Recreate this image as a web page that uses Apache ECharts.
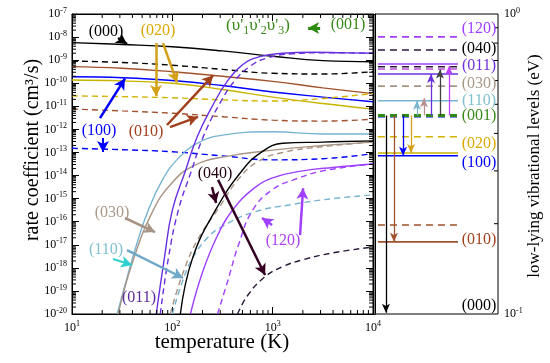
<!DOCTYPE html>
<html><head><meta charset="utf-8">
<script src="https://cdn.jsdelivr.net/npm/echarts@6/dist/echarts.min.js"></script>
<style>html,body{margin:0;padding:0;background:#fff}#c{width:550px;height:363px}</style>
</head><body><div id="c"></div><script>
// ---- data (log10 units): [log10 T (K), log10 k (cm^3/s)] ----
const c000s = [[1,-8.24],[1.5,-8.32],[2,-8.42],[2.5,-8.6],[3,-8.83],[3.5,-9.02],[4,-9.07]];
const c000d = [[1,-9.04],[1.5,-9.1],[2,-9.22],[2.5,-9.4],[3,-9.57],[3.5,-9.6],[4,-9.5]];
const c010s = [[1,-9.28],[1.5,-9.35],[2,-9.5],[2.5,-9.7],[3,-9.92],[3.5,-10.2],[4,-10.45]];
const c010d = [[1,-11.12],[1.5,-11.2],[2,-11.3],[2.5,-11.45],[3,-11.6],[3.5,-11.64],[4,-11.56]];
const c100s = [[1,-9.72],[1.5,-9.76],[2,-9.88],[2.5,-10.1],[3,-10.38],[3.5,-10.6],[4,-10.8]];
const c100d = [[1,-12.82],[1.5,-12.88],[2,-12.97],[2.5,-13.15],[3,-13.32],[3.5,-13.27],[4,-13.05]];
const c020s = [[1,-9.86],[1.5,-9.9],[2,-10.0],[2.5,-10.27],[3,-10.6],[3.5,-10.88],[4,-11.12]];
const c020d = [[1,-10.55],[1.5,-10.58],[2,-10.63],[2.5,-10.72],[3,-10.77],[3.5,-10.66],[4,-10.44]];
const c110s = [[1.45,-20],[1.55,-18.4],[1.65,-16.9],[1.76,-15.5],[1.9,-14.2],[2.05,-13.3],[2.25,-12.6],[2.5,-12.25],[3,-12.1],[3.5,-12.2],[4,-12.2]];
const c110d = [[2.0,-20],[2.1,-18.6],[2.2,-17.6],[2.35,-16.7],[2.5,-16.2],[2.8,-15.6],[3.2,-15.25],[3.6,-15.0],[4,-14.84]];
const c030s = [[1.46,-20],[1.6,-17.8],[1.81,-15.5],[2.0,-14.3],[2.2,-13.6],[2.5,-13.2],[3,-12.9],[3.5,-12.7],[4,-12.55]];
const c030d = [[1.98,-20],[2.1,-18.3],[2.25,-16.8],[2.48,-15.3],[2.65,-14.2],[2.85,-13.4],[3.1,-13.0],[3.5,-12.75],[4,-12.55]];
const c011s = [[1.84,-20],[1.92,-17.6],[2.0,-15.5],[2.13,-13.8],[2.25,-12.3],[2.41,-10.9],[2.55,-9.9],[2.7,-9.2],[2.87,-8.85],[3.1,-8.7],[3.4,-8.66],[3.7,-8.68],[4,-8.7]];
const c011d = [[1.88,-20],[1.96,-17.6],[2.06,-15.5],[2.19,-13.8],[2.31,-12.3],[2.47,-10.9],[2.62,-9.9],[2.78,-9.25],[2.95,-8.9],[3.2,-8.72],[3.5,-8.68],[4,-8.7]];
const c040s = [[2.08,-20],[2.2,-17.6],[2.43,-15.5],[2.7,-13.76],[2.9,-12.95],[3.1,-12.6],[3.5,-12.55],[4,-12.5]];
const c040d = [[2.65,-20],[2.75,-19.2],[2.92,-18.4],[3.1,-17.95],[3.3,-17.65],[3.6,-17.35],[4,-17.1]];
const c120s = [[2.18,-20],[2.3,-18.2],[2.45,-16.6],[2.6,-15.5],[2.8,-14.6],[3.0,-14.1],[3.3,-13.8],[3.6,-13.65],[4,-13.5]];
const c120d = [[2.45,-20],[2.55,-18.6],[2.66,-17.0],[2.8,-15.5],[3.0,-14.6],[3.2,-14.2],[3.5,-13.8],[4,-13.5]];

// tick label exponents
const xExp = [1,2,3,4];
const yExp = [-20,-19,-18,-17,-16,-15,-14,-13,-12,-11,-10,-9,-8,-7];
const rExp = [-1,0];

// energy levels (eV) of right panel
const levelE    = [0.839, 0.759, 0.681, 0.667, 0.656, 0.631, 0.575, 0.514, 0.459, 0.455, 0.390, 0.344, 0.337, 0.198, 0.174];
// transitions from (001) level
const transFrom = 0.459;
const transTo   = [0.101, 0.174, 0.337, 0.344, 0.514, 0.524, 0.631, 0.653, 0.671];

// ---- styles ----
const serif = "'Liberation Serif','DejaVu Serif',serif";
const COL = {k:'#000', br:'#a0522d', bl:'#0000ff', ye:'#c8b400', lb:'#78b4d2', gr:'#a89484', bv:'#6a30e0', vi:'#a040ff', gn:'#2f8a10', dk:'#2a1838'};
const curveStyle = [
  [c000s, COL.k, 0], [c000d, COL.k, 1], [c010s, COL.br, 0], [c010d, COL.br, 1],
  [c100s, COL.bl, 0], [c100d, COL.bl, 1], [c020s, COL.ye, 0], [c020d, '#d2b400', 1],
  [c110s, COL.lb, 0], [c110d, COL.lb, 1], [c030s, COL.gr, 0], [c030d, COL.gr, 1],
  [c011s, COL.bv, 0], [c011d, COL.bv, 1], [c040s, COL.k, 0], [c040d, COL.dk, 1],
  [c120s, COL.vi, 0], [c120d, COL.vi, 1]
];
const levelStyle = [
  [COL.vi,1],[COL.dk,1],[COL.vi,0],[COL.dk,1],['#c050e0',1],[COL.bv,0],[COL.gr,1],[COL.lb,0],
  [COL.gn,1],[COL.bl,1],['#d2b400',1],[COL.ye,0],[COL.bl,0],[COL.br,1],[COL.br,0]
];
const transColor = [COL.k, COL.br, COL.bl, '#d4a017', COL.lb, '#b89090', COL.bv, '#404040', '#c040ff'];
const transX = [0.089, 0.154, 0.228, 0.293, 0.341, 0.398, 0.455, 0.528, 0.602];

// annotation arrows in log10 data units: [[x1,y1],[x2,y2], color, width]
const arrows = [
  [[1.459,-8.04],[1.548,-8.30], '#000', 2.5],
  [[1.837,-8.26],[1.837,-10.55], '#d4a017', 2.5],
  [[1.907,-8.26],[2.047,-9.97], '#d4a017', 2.5],
  [[3.473,-7.61],[3.353,-7.61], '#2f8a10', 3],
  [[1.279,-11.51],[1.528,-9.8], '#0000ff', 2.5],
  [[1.309,-12.37],[1.309,-12.98], '#0000ff', 2],
  [[1.947,-11.81],[2.406,-9.66], '#a0401c', 2.5],
  [[1.977,-11.9],[2.256,-11.46], '#a0401c', 2.5],
  [[1.528,-15.84],[1.828,-16.45], '#a89484', 2.5],
  [[1.548,-17.23],[2.107,-18.44], '#70a8c8', 2.5],
  [[1.409,-17.62],[1.598,-17.88], '#30d0d0', 2],
  [[2.396,-14.5],[2.436,-15.19], '#330022', 2.5],
  [[2.456,-14.19],[2.924,-18.31], '#330022', 2.5],
  [[2.994,-16.14],[2.894,-15.84], '#a040ff', 2.5],
  [[3.273,-16.58],[3.303,-14.55], '#a040ff', 2.5]
];

const p10 = v => Math.pow(10, v);
const supLabel = v => '{b|10}{s|' + Math.round(Math.log10(v)) + '}';
const rich = {
  b:{fontSize:12, fontFamily:serif, color:'#000'},
  s:{fontSize:8, fontFamily:serif, color:'#000', verticalAlign:'bottom', padding:[0,0,7,0]}
};

const series = [];
curveStyle.forEach(([d, color, dash]) => {
  series.push({type:'line', xAxisIndex:0, yAxisIndex:0, data:d.map(p=>[p10(p[0]), p10(p[1])]),
    smooth:0.45, symbol:'none', silent:true, animation:false, clip:true,
    lineStyle:{color, width:1.4, type: dash ? [6,4] : 'solid'}, z:3});
});
// annotation arrows (left panel)
series.push({type:'line', xAxisIndex:0, yAxisIndex:0, data:[], silent:true, animation:false,
  markLine:{silent:true, animation:false, symbol:['none','arrow'], symbolSize:[9,11], label:{show:false},
    data: arrows.map(a => [
      {coord:[p10(a[0][0]), p10(a[0][1])], lineStyle:{color:a[2], width:a[3], type:'solid'}, itemStyle:{color:a[2]}},
      {coord:[p10(a[1][0]), p10(a[1][1])]}
    ])}, z:5});

// right panel levels
levelE.forEach((E, i) => {
  const [color, dash] = levelStyle[i];
  series.push({type:'line', xAxisIndex:2, yAxisIndex:2, data:[[0.024,E],[0.675,E]], symbol:'none', silent:true, animation:false,
    lineStyle:{color, width: i===8 ? 3 : 1.6, type: dash ? [7,5] : 'solid'}, z: i===8 ? 4 : 3});
});
// right panel transitions
series.push({type:'line', xAxisIndex:2, yAxisIndex:2, data:[], silent:true, animation:false,
  markLine:{silent:true, animation:false, symbol:['none','arrow'], symbolSize:[6,9], label:{show:false},
    data: transTo.map((E, i) => [
      {coord:[transX[i], transFrom], lineStyle:{color:transColor[i], width:1.3, type:'solid'}, itemStyle:{color:transColor[i]}},
      {coord:[transX[i], E]}
    ])}, z:5});

// minor ticks
const minorLeft = [];
for (let n = 1; n < 4; n++) for (let m = 2; m < 10; m++) minorLeft.push([m*p10(n), 1e-10, 0]);
for (let n = -20; n < -7; n++) for (let m = 2; m < 10; m++) minorLeft.push([100, m*p10(n), 1]);
const minorRight = [];
for (let m = 2; m < 10; m++) minorRight.push([0.5, m*0.1, 1]);
function tickRender(both){
  return function(params, api){
    const cs = params.coordSys, len = 4, st = {stroke:'#000', lineWidth:1};
    const kind = api.value(2);
    const p = api.coord([api.value(0), api.value(1)]);
    const ch = [];
    if (kind === 0) {
      ch.push({type:'line', shape:{x1:p[0], y1:cs.y+cs.height, x2:p[0], y2:cs.y+cs.height-len}, style:st});
      ch.push({type:'line', shape:{x1:p[0], y1:cs.y, x2:p[0], y2:cs.y+len}, style:st});
    } else {
      if (both) ch.push({type:'line', shape:{x1:cs.x, y1:p[1], x2:cs.x+len, y2:p[1]}, style:st});
      ch.push({type:'line', shape:{x1:cs.x+cs.width, y1:p[1], x2:cs.x+cs.width-len, y2:p[1]}, style:st});
    }
    return {type:'group', children:ch};
  };
}
series.push({type:'custom', xAxisIndex:0, yAxisIndex:0, data:minorLeft, renderItem:tickRender(true), silent:true, animation:false, encode:{x:0,y:1}, z:6});
series.push({type:'custom', xAxisIndex:2, yAxisIndex:2, data:minorRight, renderItem:tickRender(false), silent:true, animation:false, encode:{x:0,y:1}, z:6});

const axLine = {show:true, lineStyle:{color:'#000', width:1}};
const tickIn = {show:true, inside:true, length:7, lineStyle:{color:'#000', width:1}};
const logX = {gridIndex:0, type:'log', logBase:10, min:p10(xExp[0]), max:p10(xExp[xExp.length-1]), splitNumber:3, interval:1,
  axisLine:axLine, axisTick:tickIn, splitLine:{show:false}};
const logY = {gridIndex:0, type:'log', logBase:10, min:p10(yExp[0]), max:p10(yExp[yExp.length-1]), splitNumber:13, interval:1,
  axisLine:axLine, axisTick:tickIn, splitLine:{show:false}};

const T = (text, x, y, color, size, rot) => ({type:'text', x, y, rotation: rot || 0, z:10, silent:true,
  style:{text, fill:color, font: size + 'px ' + serif, align:'center', verticalAlign:'middle', textAlign:'center', textVerticalAlign:'middle'}});

const graphics = [
  T('rate coefficient (cm³/s)', 33, 150, '#000', 20, Math.PI/2),
  T('temperature (K)', 222, 342, '#000', 21),
  T('low-lying vibrational levels (eV)', 535, 166, '#000', 17, Math.PI/2),
  T('(000)', 106, 32, '#000', 16),
  T('(020)', 158, 31, '#dca800', 16),
  T('(001)', 348, 25, '#3a8a1a', 16),
  T('(100)', 99, 131, '#0000ff', 16),
  T('(010)', 146, 132, '#a0401c', 16),
  T('(030)', 112, 213, '#a89888', 16),
  T('(110)', 106, 250, '#80c0d0', 16),
  T('(011)', 139, 298, '#5a2a9a', 16),
  T('(040)', 215, 174, '#220011', 16),
  T('(120)', 283, 241, '#b040f0', 16),
  T('(120)', 479, 29, '#a040ff', 16),
  T('(040)', 479, 49, '#000', 16),
  T('(011)', 479, 66, '#7030e0', 16),
  T('(030)', 479, 84, '#a89888', 16),
  T('(110)', 479, 101, '#80c0d0', 16),
  T('(001)', 479, 116, '#3a8a1a', 16),
  T('(020)', 479, 144, '#dca800', 16),
  T('(100)', 479, 163, '#0000ff', 16),
  T('(010)', 479, 240, '#a0401c', 16),
  T('(000)', 479, 306, '#000', 16),
  {type:'text', x:258, y:26, z:10, silent:true,
   style:{text:"(υ'{u|1}υ'{u|2}υ'{u|3})", fill:'#3a8a1a', font:'17px ' + serif, align:'center', verticalAlign:'middle',
     textAlign:'center', textVerticalAlign:'middle',
     rich:{u:{fontSize:12, fontFamily:serif, fill:'#3a8a1a', verticalAlign:'top', padding:[10,0,0,0]}}}}
];

const option = {
  backgroundColor:'#fff',
  animation:false,
  grid:[
    {left:72, top:14, width:301, height:300, show:true, borderColor:'#000', borderWidth:1, backgroundColor:'transparent'},
    {left:375, top:14, width:123, height:300, show:true, borderColor:'#000', borderWidth:1, backgroundColor:'transparent'}
  ],
  xAxis:[
    Object.assign({}, logX, {position:'bottom', axisLabel:{formatter:supLabel, rich, margin:6, showMinLabel:true, showMaxLabel:true}}),
    Object.assign({}, logX, {position:'top', axisLabel:{show:false}}),
    {gridIndex:1, type:'value', min:0, max:1, show:false}
  ],
  yAxis:[
    Object.assign({}, logY, {position:'left', axisLabel:{formatter:supLabel, rich, margin:5, showMinLabel:true, showMaxLabel:true}}),
    Object.assign({}, logY, {position:'right', axisLabel:{show:false}}),
    {gridIndex:1, type:'log', logBase:10, min:p10(rExp[0]), max:p10(rExp[1]), splitNumber:1, interval:1, position:'right',
      axisLine:axLine, axisTick:tickIn, splitLine:{show:false},
      axisLabel:{formatter:supLabel, rich, margin:6, showMinLabel:true, showMaxLabel:true}}
  ],
  graphic: graphics,
  series
};
const chart = echarts.init(document.getElementById('c'));
chart.setOption(option);
</script></body></html>
